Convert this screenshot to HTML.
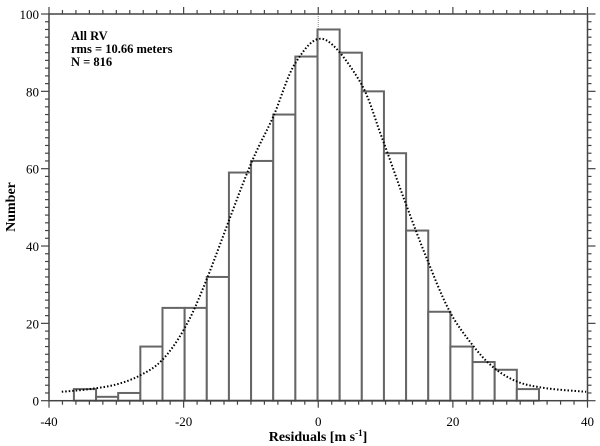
<!DOCTYPE html>
<html><head><meta charset="utf-8"><style>
body{margin:0;background:#fff;}
svg{display:block;font-family:"Liberation Serif",serif;}
</style></head><body>
<svg id="chart" width="600" height="446" viewBox="0 0 600 446"></svg>
<script>
const binStart = -36.3;
const binWidth = 3.29;
const counts = [3,1,2,14,24,24,32,59,62,74,89,96,90,80,64,44,23,14,10,8,3];
const curveX = [-38.1,-34,-30,-26.4,-23.2,-20,-16.8,-10.4,-6.7,-3.4,0.8,6.2,9.4,12.8,16.0,19.4,22.7,25.9,29.6,34,39.8];
const curveY = [2.3,3.0,4.2,6.6,10.5,18.3,30.4,59.6,73.4,87.3,93.5,82.5,68.3,51.9,37.3,23.5,14.9,8.8,4.9,3.2,2.3];
const xTicks = [-40,-20,0,20,40];
const yTicks = [0,20,40,60,80,100];

const NS="http://www.w3.org/2000/svg";
const svg=document.getElementById('chart');
const L=49,R=587.5,T=14,B=400.7;
const xs=v=>L+(v+40)/80*(R-L);
const ys=v=>B-v/100*(B-T);
function mk(tag,attrs,parent){const e=document.createElementNS(NS,tag);for(const k in attrs)e.setAttribute(k,attrs[k]);(parent||svg).appendChild(e);return e;}

// bars
const bars=mk('g',{});


counts.forEach((c,i)=>{
  const x0=xs(binStart+i*binWidth),x1=xs(binStart+(i+1)*binWidth);
  const r=mk('rect',{x:x0,y:ys(c),width:x1-x0,height:ys(0)-ys(c),fill:'#fff',stroke:'#666','stroke-width':2},bars);
  
  
});
// zero line
const zl=mk('line',{x1:xs(0),x2:xs(0),y1:T,y2:B,stroke:'#888','stroke-width':1,'stroke-dasharray':'1,1'});


// curve (Catmull-Rom)
const P=curveX.map((x,i)=>[xs(x),ys(curveY[i])]);
let d='M'+P[0][0]+','+P[0][1];
for(let i=0;i<P.length-1;i++){
  const p0=P[Math.max(0,i-1)],p1=P[i],p2=P[i+1],p3=P[Math.min(P.length-1,i+2)];
  const c1=[p1[0]+(p2[0]-p0[0])/6,p1[1]+(p2[1]-p0[1])/6];
  const c2=[p2[0]-(p3[0]-p1[0])/6,p2[1]-(p3[1]-p1[1])/6];
  d+=`C${c1[0]},${c1[1]} ${c2[0]},${c2[1]} ${p2[0]},${p2[1]}`;
}
const cv=mk('path',{d:d,fill:'none',stroke:'#000','stroke-width':2,'stroke-dasharray':'1.5,2'});


// frame
const fr=mk('rect',{x:L,y:T,width:R-L,height:B-T,fill:'none',stroke:'#444','stroke-width':1.5});


// ticks
const tk=mk('g',{stroke:'#444','stroke-width':1.2});


for(let v=-40;v<=40;v+=2){
  const maj=v%20===0,len=maj?7:4,x=xs(v);
  mk('line',{x1:x,x2:x,y1:B,y2:B+len},tk);
  mk('line',{x1:x,x2:x,y1:T,y2:T-len},tk);
}
for(let v=0;v<=100;v+=2){
  const maj=v%20===0,len=maj?8:4,y=ys(v);
  mk('line',{x1:L,x2:L-len,y1:y,y2:y},tk);
  mk('line',{x1:R,x2:R+len,y1:y,y2:y},tk);
}
xTicks.forEach(v=>{const t=mk('text',{x:xs(v),y:426,'text-anchor':'middle','font-size':13});t.textContent=v;
  });
yTicks.forEach(v=>{const t=mk('text',{x:L-10,y:ys(v)+5,'text-anchor':'end','font-size':13});t.textContent=v;
  });
</script>
<div></div>
<script>
const s2=document.getElementById('chart');
s2.insertAdjacentHTML('beforeend',
 '<text x="318" y="441" text-anchor="middle" font-size="14" font-weight="bold">Residuals [m s<tspan dy="-5" font-size="9">-1</tspan><tspan dy="5">]</tspan></text>'+
 '<text transform="translate(15,207) rotate(-90)" text-anchor="middle" font-size="14" font-weight="bold">Number</text>'+
 '<g font-size="12.5" font-weight="bold"><text x="71" y="40">All RV</text><text x="71" y="53">rms = 10.66 meters</text><text x="71" y="66">N = 816</text></g>');
</script>
</body></html>
